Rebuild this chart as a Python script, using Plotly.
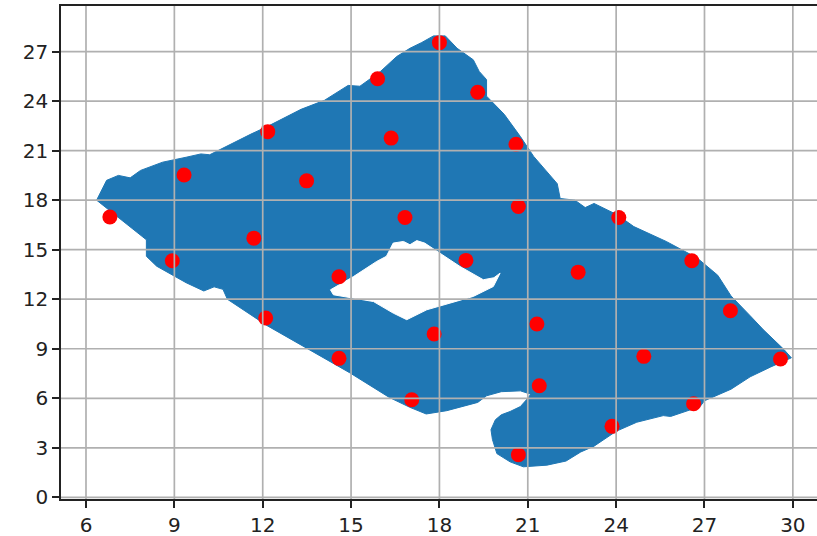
import plotly.graph_objects as go

# Outer boundary of the blue point cloud
outline_x = [6.36, 6.7, 7.1, 7.5, 7.85, 8.6, 9.4, 9.9, 10.2, 10.8, 11.6, 12.2, 12.8, 13.3,
             14.1, 14.9, 15.3, 16.0, 16.55, 17.0, 17.4, 17.8, 18.2, 18.6, 19.15, 19.35,
             19.6, 19.6, 20.2, 20.75, 21.2, 22.0, 22.1, 22.6, 22.95, 23.25, 24.05, 24.6,
             25.7, 26.75, 27.45, 27.9, 28.55, 29.0, 29.7, 29.95, 29.25, 28.55, 27.9, 27.0,
             26.85, 25.85, 25.6, 24.7, 24.0, 23.25, 22.8, 22.3, 21.65, 20.85, 20.4, 19.95,
             19.8, 19.75, 19.9, 20.1, 20.4, 20.75, 21.0, 21.1, 20.75, 20.1, 19.6, 19.3,
             18.25, 17.55, 17.0, 16.3, 14.95, 13.3, 12.15, 10.8, 10.65, 10.35, 10.0, 9.4,
             8.4, 8.05, 8.05, 6.36]
outline_y = [18.0, 19.2, 19.5, 19.35, 19.8, 20.3, 20.6, 20.8, 20.75, 21.3, 22.0, 22.5, 23.05, 23.5,
             24.05, 24.95, 24.9, 25.8, 26.7, 27.2, 27.55, 27.95, 27.95, 27.2, 26.5, 25.8,
             25.3, 24.3, 23.2, 21.85, 20.65, 19.0, 18.1, 18.0, 17.55, 17.8, 17.1, 16.4,
             15.5, 14.5, 13.45, 12.2, 11.0, 10.15, 8.95, 8.45, 7.9, 7.3, 6.55, 5.85,
             5.5, 4.9, 4.95, 4.55, 4.0, 3.1, 2.75, 2.2, 1.95, 1.85, 2.15, 2.65,
             3.5, 4.1, 4.7, 5.0, 5.2, 5.5, 6.0, 6.25, 6.45, 6.4, 6.15, 5.75,
             5.25, 5.05, 5.45, 6.05, 7.55, 9.2, 10.4, 12.0, 12.6, 12.75, 12.5, 13.0,
             14.0, 14.6, 15.6, 18.0]

# Hole inside the blue cloud
hole_x = [14.3, 15.08, 15.87, 16.2, 16.43, 16.78, 17.0, 17.23, 17.5, 18.02, 18.7, 19.49,
          19.85, 20.06, 19.83, 19.15, 18.36, 17.57, 16.89, 16.43, 15.76, 15.08, 14.4, 14.3]
hole_y = [12.57, 13.37, 14.29, 14.6, 15.4, 15.5, 15.3, 15.55, 15.4, 14.8, 13.98, 13.18,
          13.3, 13.58, 12.77, 12.17, 11.77, 11.36, 10.76, 11.16, 11.86, 12.07, 12.27, 12.57]

# Red points
red_x = [6.81, 8.93, 9.33, 11.70, 12.17, 12.10, 15.90, 18.00, 19.30, 16.36,
         13.49, 20.60, 20.68, 16.83, 18.90, 24.09, 22.71, 26.57, 27.88, 21.31,
         24.94, 29.58, 21.39, 26.63, 23.86, 20.68, 17.82, 17.06, 14.59, 14.59]
red_y = [16.98, 14.33, 19.52, 15.70, 22.15, 10.86, 25.35, 27.54, 24.54, 21.76,
         19.17, 21.39, 17.62, 16.95, 14.35, 16.95, 13.64, 14.33, 11.30, 10.50,
         8.54, 8.38, 6.76, 5.67, 4.30, 2.58, 9.89, 5.91, 8.42, 13.36]

xticks = [6, 9, 12, 15, 18, 21, 24, 27, 30]
yticks = [0, 3, 6, 9, 12, 15, 18, 21, 24, 27]

BLUE = "#1f77b4"
fig = go.Figure()
fig.add_trace(go.Scatter(x=outline_x, y=outline_y, mode="lines", fill="toself",
                         fillcolor=BLUE, line=dict(color=BLUE, width=1),
                         hoverinfo="skip", showlegend=False))
fig.add_trace(go.Scatter(x=hole_x, y=hole_y, mode="lines", fill="toself",
                         fillcolor="white", line=dict(color="white", width=1),
                         hoverinfo="skip", showlegend=False))
fig.add_trace(go.Scatter(x=red_x, y=red_y, mode="markers",
                         marker=dict(color="red", size=15, line=dict(width=0)),
                         showlegend=False))

shapes = []
for t in xticks:
    shapes.append(dict(type="line", xref="x", yref="paper", x0=t, x1=t, y0=0, y1=1,
                       line=dict(color="#b0b0b0", width=1.7), layer="above"))
for t in yticks:
    shapes.append(dict(type="line", xref="paper", yref="y", x0=0, x1=1, y0=t, y1=t,
                       line=dict(color="#b0b0b0", width=1.7), layer="above"))

font = dict(family="DejaVu Sans", size=20, color="#222222")
fig.update_layout(
    width=817, height=536,
    margin=dict(l=61, r=0, t=6, b=37),
    plot_bgcolor="white", paper_bgcolor="white",
    shapes=shapes,
    xaxis=dict(range=[5.151, 30.82], tickmode="array", tickvals=xticks,
               showgrid=False, zeroline=False, showline=True, mirror=True,
               linecolor="#222222", linewidth=1.7, ticks="outside", ticklen=7,
               tickwidth=1.7, tickcolor="#222222", tickfont=font, automargin=False),
    yaxis=dict(range=[-0.1, 29.76], tickmode="array", tickvals=yticks,
               showgrid=False, zeroline=False, showline=True, mirror=False,
               linecolor="#222222", linewidth=1.7, ticks="outside", ticklen=7,
               tickwidth=1.7, tickcolor="#222222", tickfont=font, automargin=False),
)
fig.write_html("out.html")
